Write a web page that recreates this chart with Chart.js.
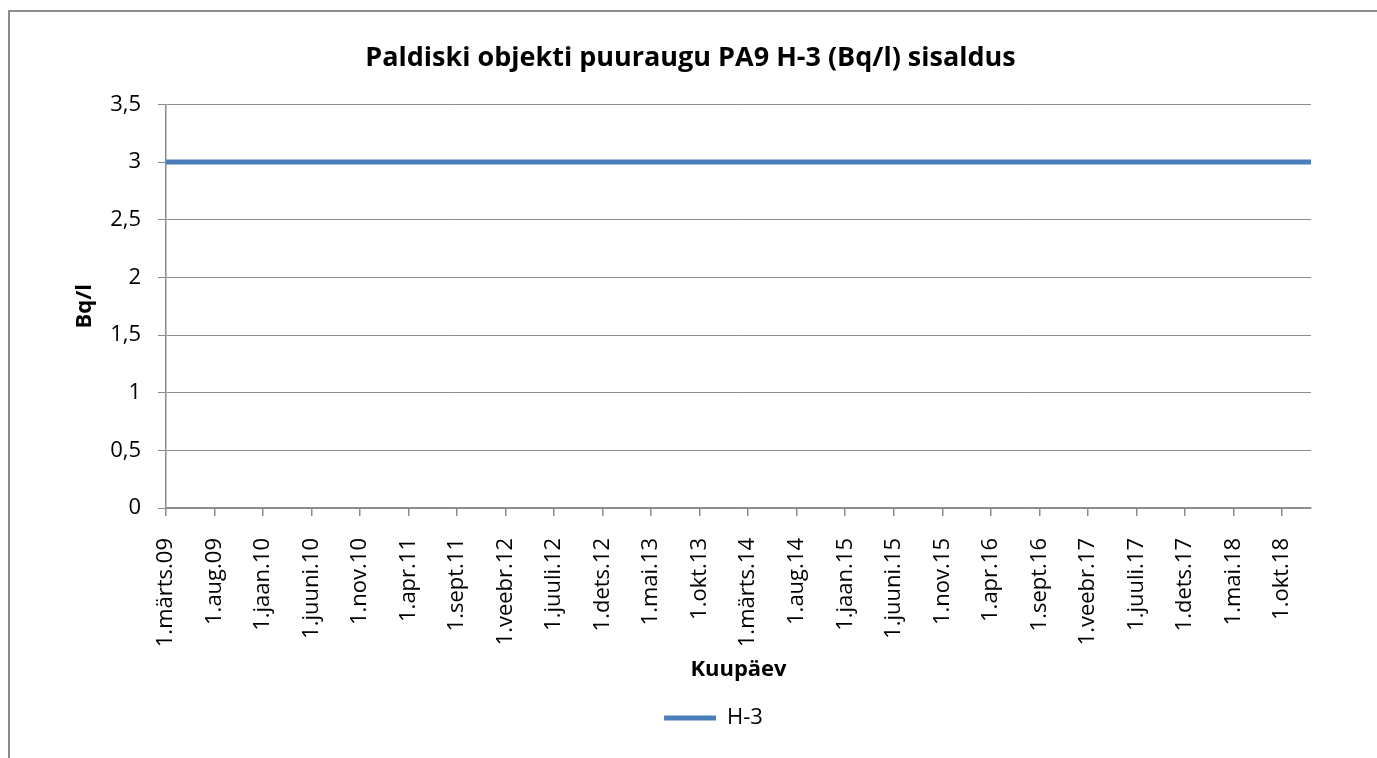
<!DOCTYPE html>
<html>
<head>
<meta charset="utf-8">
<script src="https://cdn.jsdelivr.net/npm/chart.js@4/dist/chart.umd.min.js"></script>
<style>
  html, body { margin: 0; padding: 0; background: #fff; overflow: hidden; }
  #frame { position: absolute; left: 8px; top: 10px; width: 1500px; height: 900px;
           border-left: 2px solid #8c8c8c; border-top: 2px solid #8c8c8c; }
  #wrap { position: absolute; left: 0; top: 0; width: 1377px; height: 758px; }
</style>
</head>
<body>
<div id="frame"></div>
<div id="wrap"><canvas id="chart"></canvas></div>
<script>
// months counted from 1.märts.09 (0) on the date axis
const sampleMonths = [0, 6, 12, 18, 24, 30, 36, 42, 48, 54, 60, 66, 72, 78, 84, 90, 96, 102, 108, 114, 118];
const h3Values = [3, 3, 3, 3, 3, 3, 3, 3, 3, 3, 3, 3, 3, 3, 3, 3, 3, 3, 3, 3, 3];
const tickLabels = ['1.märts.09', '1.aug.09', '1.jaan.10', '1.juuni.10', '1.nov.10', '1.apr.11',
  '1.sept.11', '1.veebr.12', '1.juuli.12', '1.dets.12', '1.mai.13', '1.okt.13', '1.märts.14',
  '1.aug.14', '1.jaan.15', '1.juuni.15', '1.nov.15', '1.apr.16', '1.sept.16', '1.veebr.17',
  '1.juuli.17', '1.dets.17', '1.mai.18', '1.okt.18'];
const majorUnit = 5;
const axisMax = 118;

const fontFamily = '"Open Sans", sans-serif';
const gridColor = '#8c8c8c';

// Excel puts the legend a bit right of the canvas centre
const legendShift = {
  id: 'legendShift',
  afterLayout(chart) {
    if (chart.legend) {
      chart.legend.left += 23;
      chart.legend.right += 23;
    }
  }
};

const ctx = document.getElementById('chart').getContext('2d');
new Chart(ctx, {
  type: 'line',
  data: {
    datasets: [{
      label: 'H-3',
      data: sampleMonths.map((m, i) => ({ x: m, y: h3Values[i] })),
      borderColor: '#4a7ebb',
      backgroundColor: '#4a7ebb',
      borderWidth: 5,
      borderCapStyle: 'round',
      pointRadius: 0,
      pointHoverRadius: 0,
      tension: 0
    }]
  },
  plugins: [legendShift],
  options: {
    responsive: true,
    maintainAspectRatio: false,
    animation: false,
    layout: { padding: { left: 70, right: 66, top: 0, bottom: 19 } },
    plugins: {
      title: {
        display: true,
        text: 'Paldiski objekti puuraugu PA9 H-3 (Bq/l) sisaldus',
        color: '#000',
        font: { family: fontFamily, size: 27, weight: 'bold' },
        padding: { top: 42, bottom: 30 }
      },
      legend: {
        position: 'bottom',
        labels: {
          color: '#000',
          font: { family: fontFamily, size: 22 },
          usePointStyle: true,
          pointStyle: 'line',
          pointStyleWidth: 52,
          boxWidth: 40,
          boxHeight: 10,
          padding: 4
        }
      },
      tooltip: { enabled: false }
    },
    scales: {
      x: {
        type: 'linear',
        min: 0,
        max: axisMax,
        afterBuildTicks: scale => {
          scale.ticks = tickLabels.map((_, i) => ({ value: i * majorUnit }));
        },
        afterFit: scale => { scale.height = 195; },
        ticks: {
          autoSkip: false,
          minRotation: 90,
          maxRotation: 90,
          padding: 22,
          color: '#000',
          font: { family: fontFamily, size: 22 },
          callback: (value, index) => tickLabels[index]
        },
        grid: { drawOnChartArea: false, drawTicks: true, tickLength: 8, color: gridColor, lineWidth: 1.5 },
        border: { color: gridColor, width: 1.5 },
        title: {
          display: true,
          text: 'Kuupäev',
          color: '#000',
          font: { family: fontFamily, size: 22, weight: 'bold' },
          padding: { top: 4, bottom: 20 }
        }
      },
      y: {
        min: 0,
        max: 3.5,
        afterFit: scale => { scale.width = 96; },
        ticks: {
          stepSize: 0.5,
          padding: 17,
          color: '#000',
          font: { family: fontFamily, size: 22 },
          callback: value => String(value).replace('.', ',')
        },
        grid: { color: gridColor, lineWidth: 1, tickLength: 8 },
        border: { color: gridColor, width: 1.5 },
        title: {
          display: true,
          text: 'Bq/l',
          color: '#000',
          font: { family: fontFamily, size: 22, weight: 'bold' },
          padding: { top: 2, bottom: 4 }
        }
      }
    }
  }
});
</script>
</body>
</html>
